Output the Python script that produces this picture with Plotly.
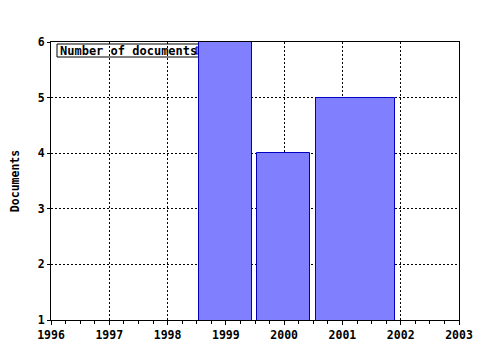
import plotly.graph_objects as go

# Data
years = [1999, 2000, 2001]
documents = [6, 4, 5]
bar_start = [1998.54, 1999.53, 2000.55]
bar_end = [1999.45, 2000.44, 2001.90]
x_ticks = [1996, 1997, 1998, 1999, 2000, 2001, 2002, 2003]
y_ticks = [1, 2, 3, 4, 5, 6]
series_name = "Number of documents"
y_title = "Documents"

centers = [(a + b) / 2 for a, b in zip(bar_start, bar_end)]
widths = [b - a for a, b in zip(bar_start, bar_end)]

FONT = "DejaVu Sans Mono"

fig = go.Figure()
fig.add_trace(go.Bar(
    x=centers, y=documents, width=widths, name=series_name,
    marker=dict(color="#8080ff", line=dict(color="#0000c0", width=1)),
    showlegend=False, hoverinfo="skip",
))

axis_common = dict(showline=True, linecolor="black", linewidth=1,
                   gridcolor="black", gridwidth=1, griddash="2px,2px",
                   zeroline=False, automargin=False)

fig.update_layout(
    width=480, height=350,
    margin=dict(l=51, r=21, t=42, b=30),
    paper_bgcolor="white", plot_bgcolor="white",
    bargap=0,
    xaxis=dict(range=[1996, 2003], tickvals=x_ticks, ticktext=[str(v) for v in x_ticks],
               ticks="outside", ticklen=4, tickcolor="black", mirror=True,
               minor=dict(dtick=0.25, tick0=1996, ticks="outside", ticklen=3,
                          tickcolor="black", showgrid=False),
               tickfont=dict(family=FONT, size=11.5, color="black", weight="bold"),
               **axis_common),
    yaxis=dict(range=[1, 6], tickvals=y_ticks, ticks="outside", ticklen=3,
               tickcolor="black", mirror=True,
               tickfont=dict(family=FONT, size=11.5, color="black", weight="bold"),
               title=dict(text=y_title, standoff=15,
                          font=dict(family=FONT, size=11.5, color="black", weight="bold")),
               **axis_common),
    xaxis2=dict(range=[1996, 2003], overlaying="x", side="top", anchor="y",
                tickvals=x_ticks, showticklabels=False, ticks="inside", ticklen=3,
                tickcolor="black", showgrid=False, showline=False, zeroline=False,
                automargin=False,
                minor=dict(dtick=0.25, tick0=1996, ticks="inside", ticklen=3,
                           tickcolor="black", showgrid=False)),
)

# legend box (drawn beneath the bars, above the grid)
fig.add_shape(type="rect", xref="paper", yref="paper",
              x0=6 / 408, x1=154 / 408, y0=1 - 15 / 278, y1=1 - 2 / 278,
              line=dict(color="black", width=1), fillcolor="white", layer="between")
fig.add_shape(type="rect", xref="paper", yref="paper",
              x0=145 / 408, x1=152 / 408, y0=1 - 12 / 278, y1=1 - 5 / 278,
              line=dict(color="#0000c0", width=1), fillcolor="#8080ff", layer="between")
fig.add_annotation(xref="paper", yref="paper", x=7 / 408, y=1 - 8.5 / 278,
                   xanchor="left", yanchor="middle", showarrow=False,
                   text=series_name,
                   font=dict(family=FONT, size=12, color="black", weight="bold"))

fig.write_html("out.html")
